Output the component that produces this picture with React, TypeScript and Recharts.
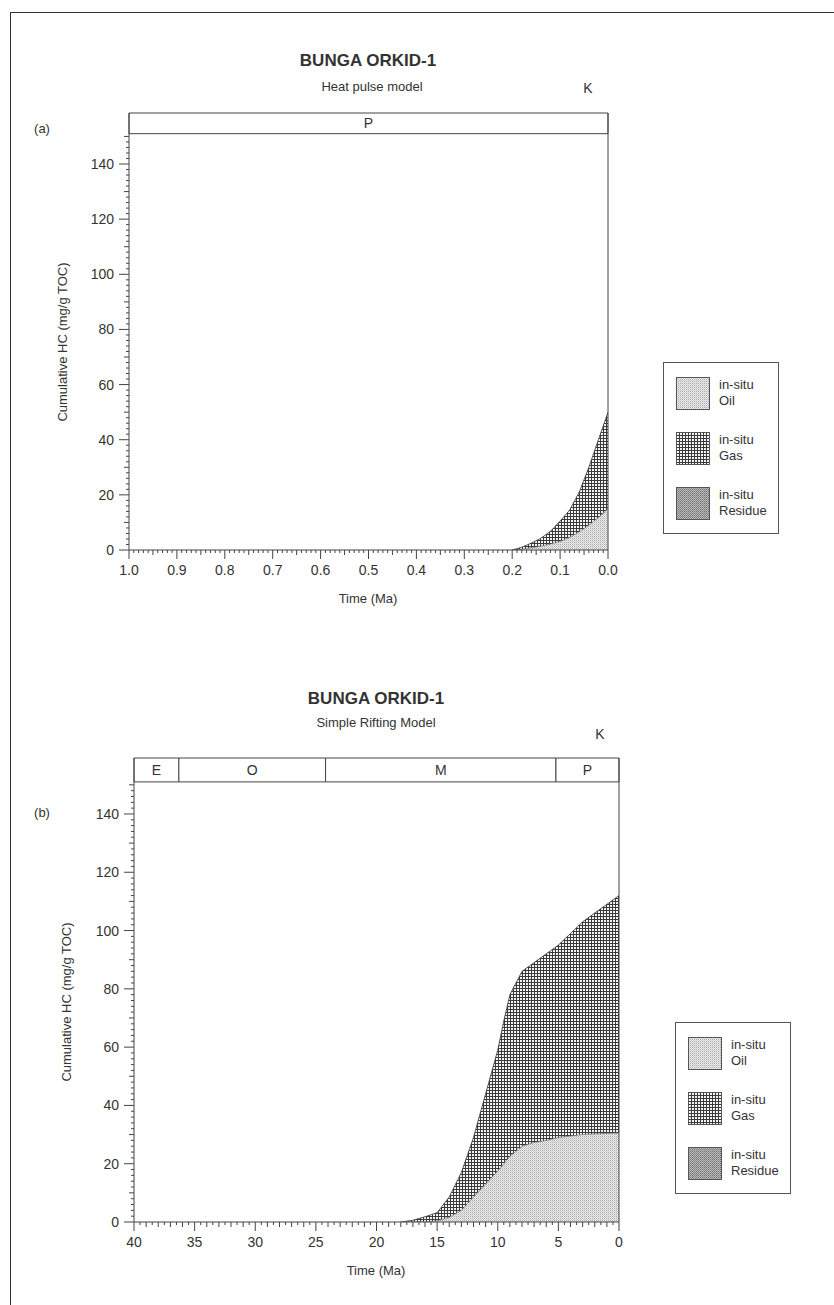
import React from "react";
import {
  AreaChart,
  Area,
  XAxis,
  YAxis,
  ReferenceArea,
  ReferenceLine,
} from "recharts";

// (a) heat pulse model, time in Ma
const timeA = [0.2, 0.18, 0.16, 0.14, 0.12, 0.1, 0.08, 0.06, 0.04, 0.02, 0.0];
const oilA = [0, 0.3, 0.8, 1.4, 2.2, 3.1, 4.6, 6.6, 9, 11.8, 15];
const totalA = [0, 1, 2.5, 4.3, 6.8, 10.5, 14.5, 21, 30, 40, 50];

// (b) simple rifting model
const timeB = [18, 17, 16, 15.5, 15, 14, 13, 12, 11, 10, 9.5, 9, 8, 7, 6, 5, 4, 3, 2, 1, 0];
const oilB = [0, 0, 0, 0.2, 0.4, 1.6, 4, 8.6, 13, 17.5, 20, 22.5, 26, 27.3, 28, 29, 29.5, 30, 30.2, 30.4, 30.5];
const totalB = [0, 0.6, 1.8, 2.5, 3.2, 8.6, 17, 29, 44, 59, 69, 78, 86, 89, 92, 95, 99, 103, 106, 109, 112];

const yTicks = [0, 20, 40, 60, 80, 100, 120, 140];
const xTicksA = [1.0, 0.9, 0.8, 0.7, 0.6, 0.5, 0.4, 0.3, 0.2, 0.1, 0.0];
const xTicksB = [40, 35, 30, 25, 20, 15, 10, 5, 0];

const periodNamesA = ["P"];
const periodBoundsA = [1.0, 0.0];
const periodNamesB = ["E", "O", "M", "P"];
const periodBoundsB = [40, 36.3, 24.2, 5.2, 0];

const legendNames = ["Oil", "Gas", "Residue"];
const legendFills = ["url(#oilPat)", "url(#gasPat)", "url(#resPat)"];

const FONT = "'Liberation Sans', Arial, sans-serif";
const INK = "#333";

const BOX_LO = 151;

const toRows = (t: number[], oil: number[], total: number[]) =>
  t.map((v, i) => ({ t: v, oil: oil[i], total: total[i] }));

const steps = (max: number, step: number) => {
  const out: number[] = [];
  const n = Math.round(max / step);
  for (let i = 0; i <= n; i++) out.push(Math.round(i * step * 1000) / 1000);
  return out;
};

const near = (a: number, list: number[]) => list.some((m) => Math.abs(m - a) < 1e-6);

const XTick = (props: any) => {
  const { x, y, payload, majors, mids, fmt } = props;
  const v = payload.value;
  const major = near(v, majors);
  const mid = near(v, mids);
  const len = major ? 9 : mid ? 5 : 3;
  return (
    <g>
      <line x1={x} y1={y} x2={x} y2={y + len} stroke="#444" strokeWidth={1} />
      {major && (
        <text x={x} y={y + 25} textAnchor="middle" fontSize={14} fill={INK} fontFamily={FONT}>
          {fmt(v)}
        </text>
      )}
    </g>
  );
};

const YTick = (props: any) => {
  const { x, y, payload } = props;
  const v = payload.value;
  const major = near(v, yTicks);
  const mid = v % 10 === 0;
  const len = major ? 10 : mid ? 5 : 3;
  return (
    <g>
      <line x1={x - len} y1={y} x2={x} y2={y} stroke="#444" strokeWidth={1} />
      {major && (
        <text x={x - 15} y={y + 5} textAnchor="end" fontSize={14} fill={INK} fontFamily={FONT}>
          {v}
        </text>
      )}
    </g>
  );
};

const Txt = ({ x, y, size = 13, bold = false, children }: any) => (
  <div
    style={{
      position: "absolute",
      left: x,
      top: y,
      transform: "translate(-50%, -50%)",
      fontFamily: FONT,
      fontSize: size,
      fontWeight: bold ? "bold" : "normal",
      color: INK,
      whiteSpace: "nowrap",
    }}
  >
    {children}
  </div>
);

const Legend = ({ left, top }: { left: number; top: number }) => (
  <div
    style={{
      position: "absolute",
      left,
      top,
      width: 114,
      height: 170,
      border: "1px solid #555",
      background: "#fff",
      fontFamily: FONT,
      fontSize: 13,
      color: INK,
    }}
  >
    {legendNames.map((name, i) => (
      <div key={name} style={{ position: "absolute", left: 12, top: 14 + i * 55, display: "flex" }}>
        <svg width={34} height={33}>
          <rect x={0.5} y={0.5} width={33} height={32} fill={legendFills[i]} stroke="#555" />
        </svg>
        <div style={{ marginLeft: 9, lineHeight: "16px", marginTop: 0 }}>
          in-situ
          <br />
          {name}
        </div>
      </div>
    ))}
  </div>
);

type PanelProps = {
  top: number;
  height: number;
  margin: { top: number; right: number; bottom: number; left: number };
  rows: any[];
  xMax: number;
  yMax: number;
  xTicks: number[];
  xMinorStep: number;
  xMidStep: number;
  fmt: (v: number) => string;
  names: string[];
  bounds: number[];
};

const Panel = (p: PanelProps) => {
  const minor = steps(p.xMax, p.xMinorStep);
  const mids = steps(p.xMax, p.xMidStep);
  const yMinor = steps(150, 2);
  return (
    <div style={{ position: "absolute", left: 0, top: p.top }}>
      <AreaChart width={834} height={p.height} data={p.rows} margin={p.margin}>
        <XAxis
          dataKey="t"
          type="number"
          domain={[0, p.xMax]}
          reversed
          allowDataOverflow
          ticks={minor}
          interval={0}
          tickSize={0}
          tickMargin={0}
          tickLine={false}
          axisLine={{ stroke: "#444" }}
          height={30}
          tick={(tp: any) => <XTick {...tp} majors={p.xTicks} mids={mids} fmt={p.fmt} />}
        />
        <YAxis
          type="number"
          domain={[0, p.yMax]}
          allowDataOverflow
          ticks={yMinor}
          interval={0}
          tickSize={0}
          tickMargin={0}
          tickLine={false}
          axisLine={{ stroke: "#444" }}
          width={40}
          tick={(tp: any) => <YTick {...tp} />}
        />
        <Area
          type="linear"
          dataKey="total"
          stroke="#333"
          strokeWidth={0.8}
          fill="url(#gasPat)"
          fillOpacity={1}
          isAnimationActive={false}
          dot={false}
          activeDot={false}
        />
        <Area
          type="linear"
          dataKey="oil"
          stroke="#666"
          strokeWidth={0.6}
          fill="url(#oilPat)"
          fillOpacity={1}
          isAnimationActive={false}
          dot={false}
          activeDot={false}
        />
        {p.names.map((n, i) => (
          <ReferenceArea
            key={n}
            x1={p.bounds[i]}
            x2={p.bounds[i + 1]}
            y1={BOX_LO}
            y2={p.yMax}
            fill="#fff"
            fillOpacity={1}
            stroke="#444"
            strokeWidth={1}
            label={{ value: n, position: "center", fill: INK, fontSize: 14, fontFamily: FONT }}
          />
        ))}
        <ReferenceLine x={0} stroke="#444" strokeWidth={1} />
      </AreaChart>
    </div>
  );
};

export default function App() {
  const rowsA = toRows(timeA, oilA, totalA);
  const rowsB = toRows(timeB, oilB, totalB);
  return (
    <div
      style={{
        position: "absolute",
        left: 0,
        top: 0,
        width: 834,
        height: 1305,
        background: "#fff",
        overflow: "hidden",
      }}
    >
      <svg width={0} height={0} style={{ position: "absolute" }}>
        <defs>
          <pattern id="oilPat" width={2} height={2} patternUnits="userSpaceOnUse">
            <rect width={2} height={2} fill="#ececec" />
            <rect width={1} height={1} fill="#a8a8a8" />
            <rect x={1} y={1} width={1} height={1} fill="#cfcfcf" />
          </pattern>
          <pattern id="gasPat" width={3} height={3} patternUnits="userSpaceOnUse">
            <rect width={3} height={3} fill="#f4f4f4" />
            <rect width={3} height={1} fill="#3a3a3a" />
            <rect width={1} height={3} fill="#3a3a3a" />
          </pattern>
          <pattern id="resPat" width={2} height={2} patternUnits="userSpaceOnUse">
            <rect width={2} height={2} fill="#bdbdbd" />
            <rect width={1} height={1} fill="#6e6e6e" />
            <rect x={1} y={1} width={1} height={1} fill="#8a8a8a" />
          </pattern>
        </defs>
      </svg>

      <div
        style={{
          position: "absolute",
          left: 10,
          top: 12,
          width: 830,
          height: 1300,
          borderLeft: "1.5px solid #333",
          borderTop: "1.5px solid #333",
        }}
      />

      {/* panel (a) */}
      <Txt x={368} y={61} size={17} bold>
        BUNGA ORKID-1
      </Txt>
      <Txt x={372} y={86}>Heat pulse model</Txt>
      <Txt x={588} y={88} size={14}>
        K
      </Txt>
      <Txt x={42} y={128}>
        (a)
      </Txt>
      <div
        style={{
          position: "absolute",
          left: 62,
          top: 342,
          transform: "translate(-50%, -50%) rotate(-90deg)",
          fontFamily: FONT,
          fontSize: 13,
          color: INK,
          whiteSpace: "nowrap",
        }}
      >
        Cumulative HC (mg/g TOC)
      </div>
      <Panel
        top={0}
        height={620}
        margin={{ top: 113, right: 226, bottom: 40, left: 89 }}
        rows={rowsA}
        xMax={1}
        yMax={158.5}
        xTicks={xTicksA}
        xMinorStep={0.01}
        xMidStep={0.05}
        fmt={(v) => v.toFixed(1)}
        names={periodNamesA}
        bounds={periodBoundsA}
      />
      <Txt x={368} y={598}>Time (Ma)</Txt>
      <Legend left={663} top={362} />

      {/* panel (b) */}
      <Txt x={376} y={699} size={17} bold>
        BUNGA ORKID-1
      </Txt>
      <Txt x={376} y={722}>Simple Rifting Model</Txt>
      <Txt x={600} y={734} size={14}>
        K
      </Txt>
      <Txt x={42} y={812}>
        (b)
      </Txt>
      <div
        style={{
          position: "absolute",
          left: 66,
          top: 1002,
          transform: "translate(-50%, -50%) rotate(-90deg)",
          fontFamily: FONT,
          fontSize: 13,
          color: INK,
          whiteSpace: "nowrap",
        }}
      >
        Cumulative HC (mg/g TOC)
      </div>
      <Panel
        top={640}
        height={640}
        margin={{ top: 118, right: 215, bottom: 28, left: 94 }}
        rows={rowsB}
        xMax={40}
        yMax={159.2}
        xTicks={xTicksB}
        xMinorStep={0.5}
        xMidStep={1}
        fmt={(v) => String(v)}
        names={periodNamesB}
        bounds={periodBoundsB}
      />
      <Txt x={376} y={1270}>Time (Ma)</Txt>
      <Legend left={675} top={1022} />
    </div>
  );
}
